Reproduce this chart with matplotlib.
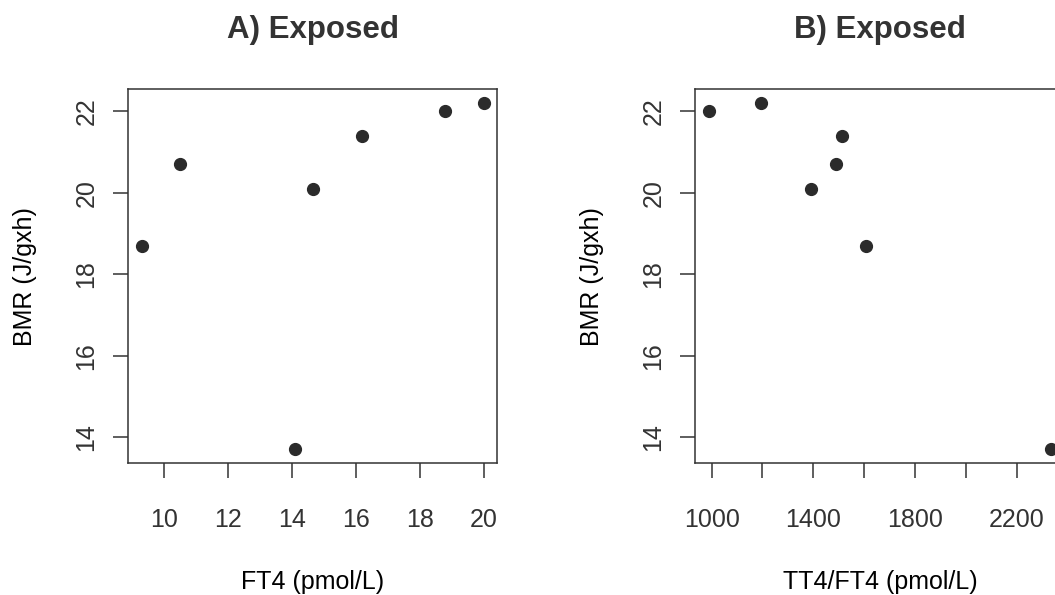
import numpy as np
import matplotlib
matplotlib.use("Agg")
import matplotlib.pyplot as plt

# BMR is shared by both panels
bmr = [18.7, 20.7, 13.7, 20.1, 21.4, 22.0, 22.2]
ft4 = [9.3, 10.5, 14.1, 14.65, 16.2, 18.8, 20.0]
tt4_ft4 = [1605, 1490, 2333, 1389, 1514, 990, 1193]

titles = ["A) Exposed", "B) Exposed"]
xlabels = ["FT4 (pmol/L)", "TT4/FT4 (pmol/L)"]
ylabel = "BMR (J/gxh)"

a_xticks = [10, 12, 14, 16, 18, 20]
b_xticks = [1000, 1200, 1400, 1600, 1800, 2000, 2200]
b_xticklabels = ["1000", "", "1400", "", "1800", "", "2200"]
yticks = [14, 16, 18, 20, 22]

INK = "#333333"
plt.rcParams["font.family"] = ["Liberation Sans", "DejaVu Sans"]
plt.rcParams["text.color"] = INK
plt.rcParams["xtick.color"] = INK
plt.rcParams["ytick.color"] = INK

W, H = 1055, 595
fig = plt.figure(figsize=(W / 100, H / 100), dpi=100)
fig.patch.set_facecolor("white")

# axes boxes in pixels (left, top), panel B runs past the right edge like the source
box_w, box_h = 369, 374
lefts = [128.3, 695.4]
top = 89.3


def style_axes(ax, title, xlabel):
    ax.margins(0.04)
    for sp in ax.spines.values():
        sp.set_color(INK)
        sp.set_linewidth(1.1)
    ax.tick_params(direction="out", length=10.5, width=1.1, labelsize=18)
    ax.tick_params(axis="x", pad=21.5)
    ax.tick_params(axis="y", pad=11)
    ax.set_yticks(yticks)
    ax.set_yticklabels([str(t) for t in yticks], rotation=90, va="center")
    ax.set_xlabel(xlabel, fontsize=18, va="center")
    ax.xaxis.set_label_coords(0.5, (463.3 - 582) / box_h)
    ax.set_ylabel(ylabel, fontsize=18, va="center")
    ax.yaxis.set_label_coords((25 - 128.3) / box_w, 0.5)
    ax.text(0.5, (463.3 - 30) / box_h, title, transform=ax.transAxes,
            ha="center", va="center", fontsize=22.5, fontweight="bold")


axes = []
for left in lefts:
    ax = fig.add_axes([left / W, (H - top - box_h) / H, box_w / W, box_h / H])
    axes.append(ax)

ax1, ax2 = axes
ax1.plot(ft4, bmr, "o", color="#2b2b2b", markersize=8.5, linestyle="none")
style_axes(ax1, titles[0], xlabels[0])
ax1.set_xticks(a_xticks)

ax2.plot(tt4_ft4, bmr, "o", color="#2b2b2b", markersize=8.5, linestyle="none",
         clip_on=False)
style_axes(ax2, titles[1], xlabels[1])
ax2.set_xticks(b_xticks)
ax2.set_xticklabels(b_xticklabels)

fig.savefig("out.png", dpi=100)
